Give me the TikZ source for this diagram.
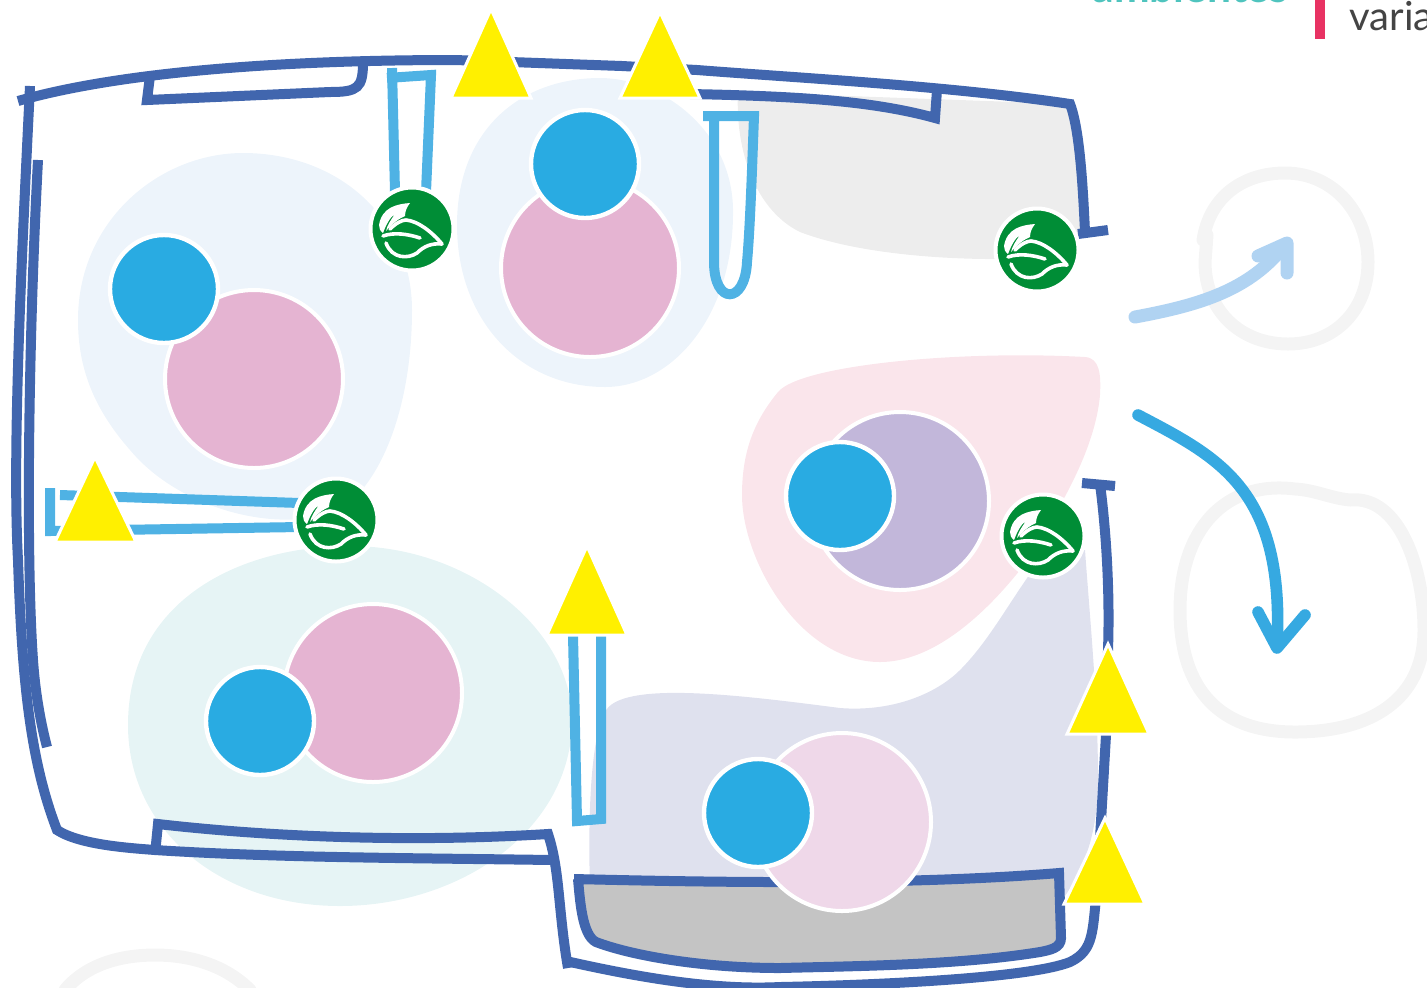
\documentclass[tikz,border=0pt]{standalone}
\usepackage{fontspec}
\setmainfont{Lato}
\definecolor{wall}{HTML}{4166AE}
\definecolor{win}{HTML}{4FB2E4}
\definecolor{dotblue}{HTML}{29ABE2}
\definecolor{dotpink}{HTML}{E5B4D2}
\definecolor{dotpurple}{HTML}{C2B7DA}
\definecolor{dotpale}{HTML}{EFD8E9}
\definecolor{leafgreen}{HTML}{008D36}
\definecolor{warn}{HTML}{FFF000}
\definecolor{blobblue}{HTML}{EDF4FB}
\definecolor{blobteal}{HTML}{E6F4F5}
\definecolor{blobpink}{HTML}{FAE5EB}
\definecolor{bloblav}{HTML}{DFE1EE}
\definecolor{blobgray}{HTML}{EDEDED}
\definecolor{roomgray}{HTML}{C4C4C4}
\definecolor{sketch}{HTML}{F4F4F4}
\definecolor{arrowlight}{HTML}{B0D3F2}
\definecolor{arrowblue}{HTML}{36A9E1}
\definecolor{barpink}{HTML}{E83263}
\definecolor{tealtext}{HTML}{4FC4BE}
\definecolor{greytext}{HTML}{444444}
\tikzset{
  wallline/.style={draw=wall,line width=5pt,line join=miter},
  winline/.style={draw=win,line width=5pt},
  sketchline/.style={draw=sketch,line width=6.5pt,line cap=round,line join=round},
  bigdot/.style={circle,draw=white,line width=2pt,inner sep=0pt,minimum size=89pt},
  smalldot/.style={circle,draw=white,line width=2.2pt,fill=dotblue,inner sep=0pt,minimum size=54pt},
  tri/.style={fill=warn,draw=white,line width=1.5pt,line join=miter},
  leafdisc/.style={circle,draw=white,line width=2pt,fill=leafgreen,inner sep=0pt,minimum size=41.5pt},
  leafmark/.pic={
    \fill[white] (-2,-26) .. controls (-15,-25) and (-30,-22) .. (-33,-4)
      .. controls (-33,-1) and (-32,2) .. (-29,4)
      .. controls (-26,-4) and (-22,-12) .. (-17,-15)
      .. controls (-22,-8) and (-25,-3) .. (-26,2)
      .. controls (-20,-5) and (-14,-10) .. (-7,-13)
      .. controls (-7,-18) and (-5,-22) .. (-2,-26) -- cycle;
    \draw[white,line width=1.8pt,line cap=round,line join=round]
      (-22,0) .. controls (-16,-6) and (-10,-9) .. (-6,-9)
      .. controls (6,-8) and (20,3) .. (30,15)
      .. controls (20,14) and (12,17) .. (5,24)
      .. controls (-4,30) and (-20,30) .. (-26,14);
    \draw[white,line width=1.8pt,line cap=round]
      (-29,7) .. controls (-18,3) and (-4,5) .. (8,9);
  },
  hlarrow/.style={line cap=round,line join=round}
}
\begin{document}
\begin{tikzpicture}[x=0.5pt,y=-0.5pt]
\useasboundingbox (0,0) rectangle (1427,987);
\clip (0,0) rectangle (1427,987);
% blobs
\fill[blobblue] (78,320) .. controls (78,220) and (160,153) .. (243,153)
  .. controls (340,153) and (412,220) .. (412,310)
  .. controls (412,400) and (385,480) .. (340,510)
  .. controls (280,535) and (180,510) .. (130,450)
  .. controls (95,410) and (78,370) .. (78,320) -- cycle;
\fill[blobblue] (457,225) .. controls (457,130) and (520,78) .. (600,78)
  .. controls (660,78) and (735,130) .. (733,215)
  .. controls (732,320) and (670,387) .. (605,387)
  .. controls (520,387) and (457,320) .. (457,225) -- cycle;
\fill[blobgray] (738,92) -- (1070,104) .. controls (1078,130) and (1082,190) .. (1085,232)
  -- (1040,258) .. controls (960,262) and (860,255) .. (800,232)
  .. controls (755,210) and (735,150) .. (738,92) -- cycle;
\fill[blobteal] (128,725) .. controls (128,600) and (240,546) .. (350,546)
  .. controls (470,546) and (572,630) .. (572,720)
  .. controls (572,830) and (460,906) .. (340,906)
  .. controls (220,906) and (128,830) .. (128,725) -- cycle;
\fill[blobpink] (778,392) .. controls (800,365) and (960,350) .. (1085,357)
  .. controls (1100,358) and (1101,375) .. (1100,395)
  .. controls (1095,450) and (1060,510) .. (1020,570)
  .. controls (980,620) and (930,662) .. (880,662)
  .. controls (800,662) and (742,560) .. (742,495)
  .. controls (742,450) and (755,420) .. (778,392) -- cycle;
\fill[bloblav] (605,712) .. controls (620,680) and (740,695) .. (840,708)
  .. controls (890,712) and (935,695) .. (960,670)
  .. controls (990,640) and (1010,600) .. (1040,560)
  -- (1085,550) .. controls (1090,620) and (1098,700) .. (1098,780)
  .. controls (1098,830) and (1085,870) .. (1062,900)
  -- (590,890) .. controls (588,820) and (590,740) .. (605,712) -- cycle;
% sketches
\draw[sketchline] (1203,240) .. controls (1210,195) and (1245,173) .. (1285,173)
  .. controls (1335,173) and (1368,215) .. (1368,262)
  .. controls (1368,310) and (1335,344) .. (1288,344)
  .. controls (1240,344) and (1205,310) .. (1205,262) -- (1207,235);
\draw[sketchline] (1295,489) .. controls (1225,480) and (1180,530) .. (1180,610)
  .. controls (1180,690) and (1220,732) .. (1295,732)
  .. controls (1370,732) and (1424,700) .. (1424,630)
  .. controls (1424,570) and (1400,495) .. (1350,500)
  .. controls (1330,498) and (1315,490) .. (1295,489) -- cycle;
\draw[sketchline] (65,990) .. controls (90,960) and (130,955) .. (155,955)
  .. controls (190,955) and (225,965) .. (250,990);
% grey room
\filldraw[fill=roomgray,wallline] (574,879) .. controls (700,882) and (900,886) .. (1059,873) -- (1061,938)
  .. controls (1061,948) and (1050,950) .. (1040,952)
  .. controls (960,965) and (860,966) .. (780,968)
  .. controls (700,968) and (630,955) .. (596,942)
  .. controls (582,935) and (580,900) .. (578,879);
% walls
\draw[wallline] (18,101) .. controls (120,72) and (280,60) .. (455,60) -- (622,66) -- (697,70)
  .. controls (800,78) and (950,86) .. (1070,104)
  .. controls (1080,130) and (1083,190) .. (1085,232);
\draw[wallline] (1078,234) -- (1108,230);
\draw[wallline] (150,76) -- (147,100) -- (330,92)
  .. controls (358,92) and (363,88) .. (363,62);
\draw[wallline] (690,94) .. controls (790,96) and (870,100) .. (935,118) -- (937,90);
\draw[wallline] (30,86) .. controls (22,250) and (12,450) .. (18,560)
  .. controls (22,680) and (30,760) .. (57,830)
  .. controls (80,845) and (130,848) .. (155,850)
  .. controls (280,858) and (420,858) .. (552,860);
\draw[wallline] (38,160) .. controls (28,350) and (26,560) .. (33,660)
  .. controls (35,690) and (40,720) .. (47,747);
\draw[wallline] (155,854) -- (158,824) .. controls (280,838) and (420,842) .. (548,834)
  .. controls (560,870) and (558,910) .. (568,968);
\draw[wallline] (566,961) .. controls (650,980) and (720,990) .. (780,987)
  .. controls (880,985) and (1030,978) .. (1070,962)
  .. controls (1095,950) and (1092,930) .. (1097,890);
\draw[wallline] (1097,890) -- (1106,735) -- (1108,650) .. controls (1110,590) and (1106,530) .. (1100,484);
\draw[wallline] (1082,483) -- (1115,486);
% windows
\draw[winline,line join=miter] (392,68) -- (395,192);
\draw[winline,line join=miter] (387,78) -- (431,75) -- (426,192);
\draw[winline,line join=miter] (703,116) -- (754,116) .. controls (752,170) and (750,230) .. (747,262)
  .. controls (745,305) and (714,305) .. (714,262) -- (714,116);
\draw[winline,line join=miter] (60,495) -- (300,503);
\draw[winline] (50,488) -- (50,531) -- (300,527);
\draw[winline,line join=miter] (573,635) -- (577,821) -- (601,819) -- (601,635);
% circles
\node[bigdot,fill=dotpink] (pa) at (254,379) {};
\node[smalldot] (ba) at (164,289) {};
\node[bigdot,fill=dotpink] (pb) at (590,268) {};
\node[smalldot] (bb) at (585,164) {};
\node[bigdot,fill=dotpurple] (pc) at (900,501) {};
\node[smalldot] (bc) at (840,496) {};
\node[bigdot,fill=dotpink] (pd) at (373,693) {};
\node[smalldot] (bd) at (260,721) {};
\node[bigdot,fill=dotpale] (pe) at (842,822) {};
\node[smalldot] (be) at (758,813) {};
% triangles
\draw[tri] (491,9) -- (531,98) -- (451,98) -- cycle;
\draw[tri] (660,12) -- (700,98) -- (620,98) -- cycle;
\draw[tri] (95,457) -- (136,542) -- (55,542) -- cycle;
\draw[tri] (587,546) -- (627,635) -- (547,635) -- cycle;
\draw[tri] (1108,644) -- (1149,734) -- (1067,734) -- cycle;
\draw[tri] (1105,818) -- (1145,904) -- (1064,904) -- cycle;
% leaves
\node[leafdisc] (la) at (412,229) {};
\node[leafdisc] (lb) at (1037,250) {};
\node[leafdisc] (lc) at (336,520) {};
\node[leafdisc] (ld) at (1043,536) {};
\pic at (la) {leafmark};
\pic at (lb) {leafmark};
\pic at (lc) {leafmark};
\pic at (ld) {leafmark};
% arrows
\coordinate (aa) at (1135,317);
\coordinate (ab) at (1285,245);
\draw[hlarrow,draw=arrowlight,line width=6.5pt] (aa) .. controls (1200,305) and (1250,290) .. (ab);
\draw[hlarrow,draw=arrowlight,line width=6.5pt] (1258,256) -- (1287,243) -- (1287,273);
\coordinate (ac) at (1138,415);
\coordinate (ad) at (1277,647);
\draw[hlarrow,draw=arrowblue,line width=5.8pt] (ac) .. controls (1220,458) and (1285,490) .. (ad);
\draw[hlarrow,draw=arrowblue,line width=5.8pt] (1258,612) -- (1277,648) -- (1305,615);
% legend fragments
\node[anchor=base west,inner sep=0pt,text=tealtext,font=\fontsize{21.3pt}{21.3pt}\selectfont\bfseries] (t1) at (1092,2) {ambientes};
\fill[barpink] (1315,0) rectangle (1325,39);
\node[anchor=base west,inner sep=0pt,text=greytext,font=\fontsize{20pt}{20pt}\selectfont] (t2) at (1349,30) {varia};
\end{tikzpicture}
\end{document}
